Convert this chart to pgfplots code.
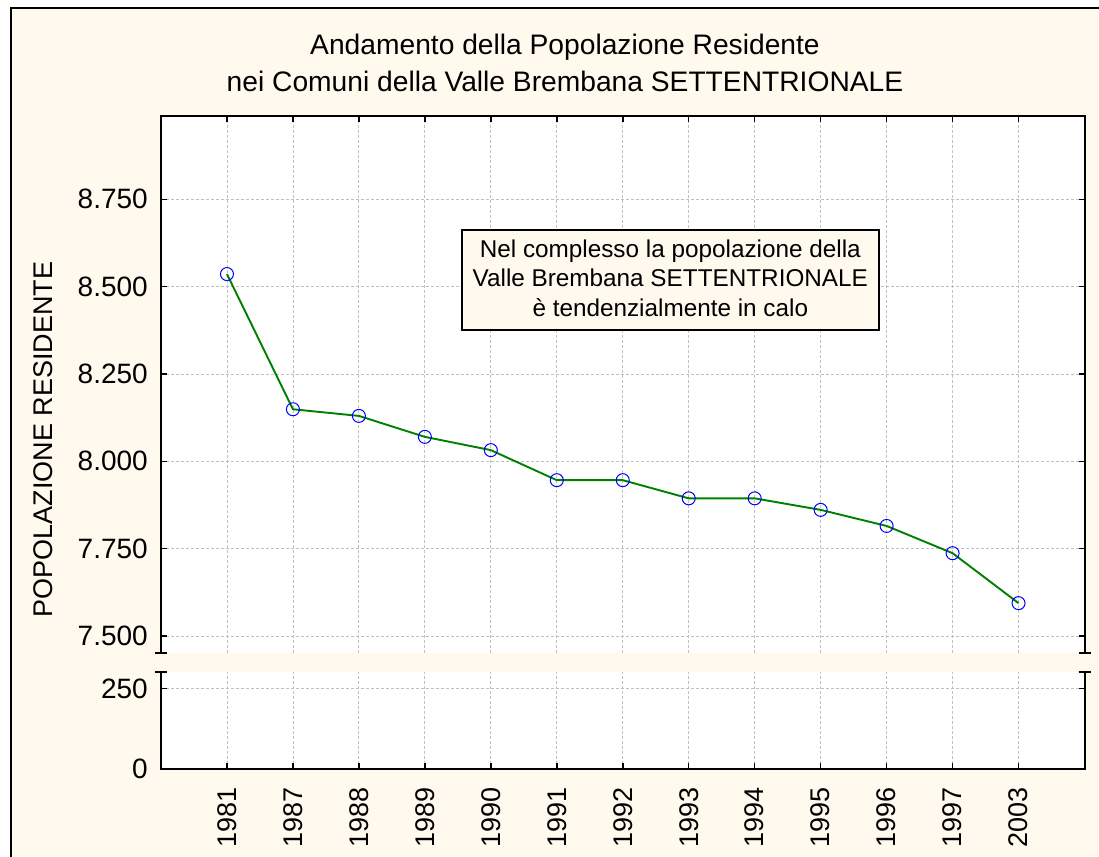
\documentclass[border=0pt]{standalone}
\usepackage{fontspec}
\setmainfont{Liberation Sans}
\usepackage{pgfplots}
\usepackage{pgfplotstable}
\pgfplotsset{compat=1.18}
\definecolor{cream}{HTML}{FFF9EE}
\definecolor{lgreen}{HTML}{008000}
\definecolor{gridgray}{HTML}{C0C0C0}

\pgfplotstableread{
x y
0 8536
1 8149
2 8130
3 8070
4 8032
5 7946
6 7946
7 7894
8 7894
9 7861
10 7815
11 7737
12 7594
}\popdata

\begin{document}
\begin{tikzpicture}
\begin{scope}[x=1pt,y=1pt]
\useasboundingbox (0,0) rectangle (1099,856);
\fill[white] (0,0) rectangle (1099,856);
\fill[cream] (11,0) rectangle (1099,848);
\draw[line width=2pt] (11,-2) -- (11,848) -- (1101,848);
\end{scope}

\pgfplotsset{
  mystyle/.style={
    scale only axis, anchor=south west, width=923.5pt,
    xmin=-1, xmax=13, xtick={0,...,12},
    axis line style={draw=none},
    axis background/.style={fill=white},
    grid=major,
    grid style={gridgray, line width=0.8pt, dash pattern=on 3pt off 2pt},
    major tick length=6pt,
    tick style={black, line width=1.5pt},
    tick align=inside,
    ytick pos=both,
    /pgf/number format/1000 sep={.},
    /pgf/number format/assume math mode=true,
    xticklabel style={font=\fontsize{27}{32}\selectfont},
    yticklabel style={font=\fontsize{28}{33}\selectfont, anchor=east, inner sep=0pt, xshift=-13pt},
  }
}

\begin{axis}[mystyle, at={(161pt,203pt)}, height=537pt,
  ymin=7451.3, ymax=8988.5,
  ytick={7500,7750,8000,8250,8500,8750},
  xtick pos=right, xticklabels={,,,,,,,,,,,,}]
\addplot[lgreen, line width=1.9pt, mark=o, mark size=6.5pt,
  mark options={draw=blue, fill=white, line width=1pt, solid}]
  table[x=x,y=y]{\popdata};
\end{axis}

\begin{axis}[mystyle, at={(161pt,87pt)}, height=97pt,
  ymin=0, ymax=302, ytick={0,250},
  xtick pos=left,
  xticklabels={1981,1987,1988,1989,1990,1991,1992,1993,1994,1995,1996,1997,2003},
  xticklabel shift=18pt,
  xticklabel style={rotate=90, anchor=east, inner sep=0pt}]
\end{axis}

\begin{scope}[x=1pt,y=1pt]
% axis frames and break marks
\draw[line width=2pt, line cap=rect] (161,203) -- (161,740) -- (1084.5,740) -- (1084.5,203);
\draw[line width=2pt, line cap=rect] (161,184) -- (161,87) -- (1084.5,87) -- (1084.5,184);
\draw[line width=2pt] (155,203)--(167,203) (155,184)--(167,184)
  (1078.5,203)--(1090.5,203) (1078.5,184)--(1090.5,184);

% titles
\node[anchor=base, font=\fontsize{28.2}{33}\selectfont] at (565,801) {Andamento della Popolazione Residente};
\node[anchor=base, font=\fontsize{28.2}{33}\selectfont] at (565,764.3) {nei Comuni della Valle Brembana SETTENTRIONALE};

% y label
\node[rotate=90, font=\fontsize{27}{32}\selectfont] at (43,416.5) {POPOLAZIONE RESIDENTE};

% annotation
\draw[line width=2pt, fill=cream] (461.7,526) rectangle (879,626);
\node[anchor=base, font=\fontsize{24.3}{28}\selectfont] at (670.3,598.3) {Nel complesso la popolazione della};
\node[anchor=base, font=\fontsize{24.3}{28}\selectfont] at (670.3,569.3) {Valle Brembana SETTENTRIONALE};
\node[anchor=base, font=\fontsize{24.3}{28}\selectfont] at (670.3,539.3) {è tendenzialmente in calo};
\end{scope}
\end{tikzpicture}
\end{document}
